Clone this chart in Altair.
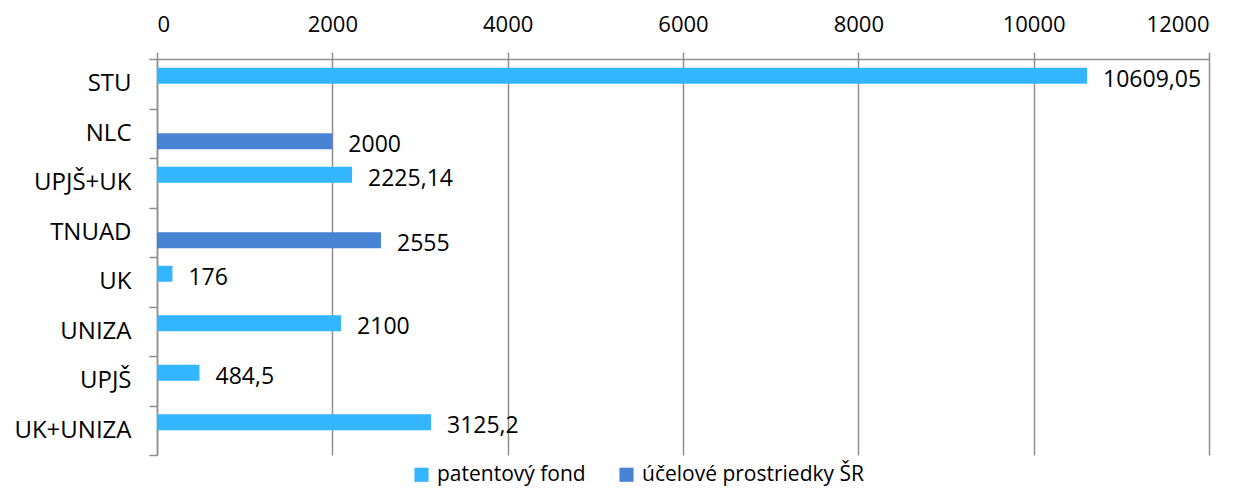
import altair as alt
import pandas as pd

categories = ["STU", "NLC", "UPJŠ+UK", "TNUAD", "UK", "UNIZA", "UPJŠ", "UK+UNIZA"]
series = ["patentový fond", "účelové prostriedky ŠR", "patentový fond", "účelové prostriedky ŠR",
          "patentový fond", "patentový fond", "patentový fond", "patentový fond"]
values = [10609.05, 2000, 2225.14, 2555, 176, 2100, 484.5, 3125.2]
series_order = ["patentový fond", "účelové prostriedky ŠR"]
colors = ["#33B5FF", "#4884D3"]
x_ticks = [0, 2000, 4000, 6000, 8000, 10000, 12000]

df = pd.DataFrame({
    "cat": categories,
    "series": series,
    "value": values,
    "label": [str(v).replace(".", ",") for v in values],
})

FONT = "Open Sans"
GRID = "#8f8f8f"

y_enc = alt.Y("cat:N", sort=categories, title=None,
              scale=alt.Scale(paddingInner=0, paddingOuter=0),
              axis=alt.Axis(orient="left", tickBand="extent", tickSize=8, labelPadding=18,
                            labelFontSize=24, labelFont=FONT, labelColor="#000000",
                            domainColor=GRID, tickColor=GRID, domainWidth=1.5, tickWidth=1.5,
                            grid=False))
yoff_enc = alt.YOffset("series:N", scale=alt.Scale(domain=series_order, paddingInner=0, paddingOuter=0.55))
x_enc = alt.X("value:Q", title=None,
              scale=alt.Scale(domain=[0, 12000], nice=False),
              axis=alt.Axis(orient="top", values=x_ticks, format="d", tickSize=7, labelPadding=16,
                            labelFontSize=22, labelFont=FONT, labelColor="#000000",
                            grid=True, gridColor=GRID, gridWidth=1.5,
                            domainColor=GRID, tickColor=GRID, domainWidth=1.5, tickWidth=1.5))

bars = alt.Chart(df).mark_bar().encode(
    y=y_enc, yOffset=yoff_enc, x=x_enc,
    color=alt.Color("series:N", scale=alt.Scale(domain=series_order, range=colors), title=None,
                    legend=alt.Legend(orient="none", legendX=254, legendY=405, direction="horizontal",
                                      symbolType="square", symbolSize=200, symbolStrokeWidth=0,
                                      labelFontSize=21, labelFont=FONT, labelColor="#000000",
                                      labelLimit=500, labelOffset=5, columnPadding=30, padding=0)),
)

texts = alt.Chart(df).mark_text(align="left", baseline="middle", dx=16, dy=4,
                                fontSize=23, font=FONT, color="#000000").encode(
    y=alt.Y("cat:N", sort=categories), yOffset=yoff_enc, x="value:Q", text="label:N")

chart = alt.layer(bars, texts).properties(
    width=1052, height=396,
    autosize=alt.AutoSizeParams(type="none"),
    padding={"left": 149, "top": 51, "right": 27, "bottom": 34},
).configure_view(stroke=None)

chart.save("out.html", embed_options={"renderer": "svg", "actions": False})
